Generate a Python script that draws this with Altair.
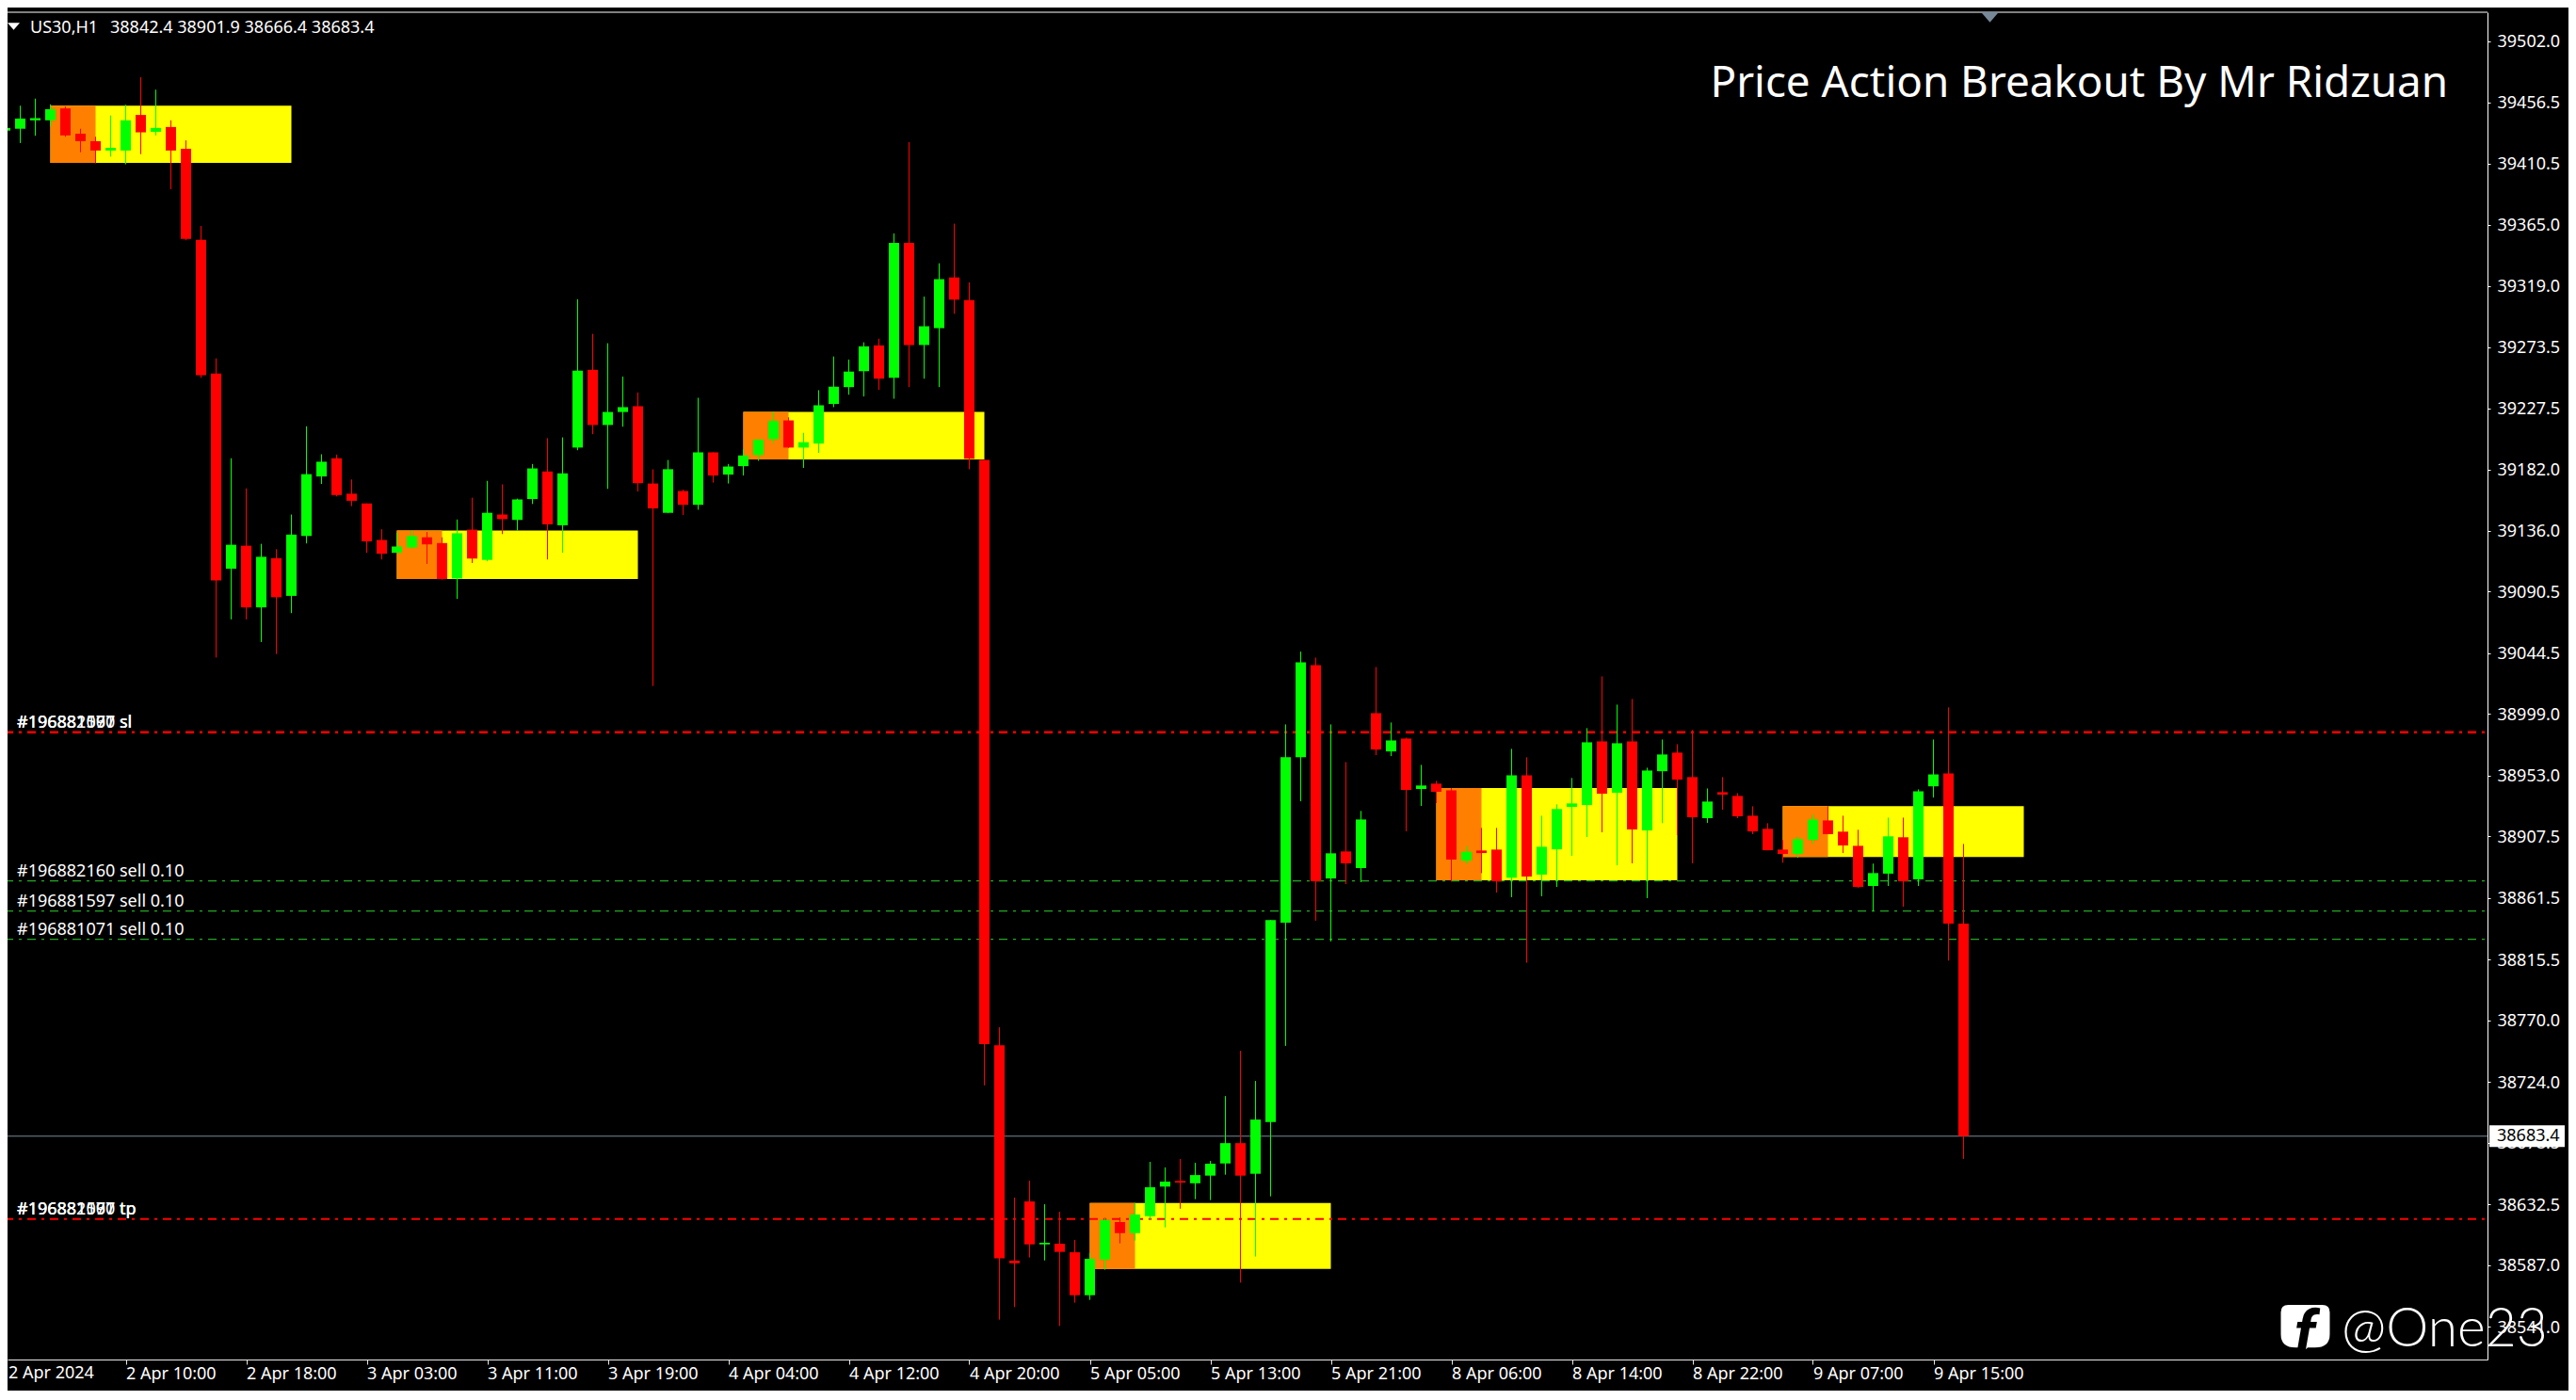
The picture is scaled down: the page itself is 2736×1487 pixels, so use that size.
import json
import altair as alt
import pandas as pd

opens = [39435.3,39436.7,39443.0,39443.0,39451.9,39433.0,39427.4,39420.4,39420.4,39447.0,39434.4,39438.0,39421.7,39353.7,39253.7,39107.7,39124.9,39078.8,39115.6,39087.4,39132.2,39176.7,39190.3,39163.8,39156.5,39129.2,39119.6,39123.6,39131.2,39126.9,39100.4,39136.9,39114.3,39148.2,39144.2,39159.8,39180.4,39140.2,39198.3,39256.4,39215.2,39224.9,39229.2,39171.4,
 39149.5,39165.8,39155.5,39194.7,39178.1,39184.4,39192.7,39204.6,39218.6,39198.3,39201.3,39230.9,39243.5,39255.4,39274.7,39250.5,39351.4,39275.0,39287.6,39325.5,39308.6,39189.0,
 38751.4,38590.3,38634.6,38602.5,38603.0,38596.6,38564.5,38591.2,38619.2,38610.9,38623.6,38645.7,38649.9,38648.2,38653.9,38663.0,38678.2,38655.3,38694.0,
 38843.1,38966.7,39035.6,38876.1,38896.3,38883.9,38999.7,38971.1,38980.7,38943.0,38947.0,38942.0,38889.3,38897.0,38897.7,38876.6,38953.3,38879.0,38897.9,38929.6,38931.0,38978.6,38940.2,38978.6,38912.0,38956.3,38970.2,38951.9,38921.2,38940.6,38937.8,38923.0,38913.2,38897.7,38894.4,38905.0,38919.5,38911.1,38900.5,38870.5,38879.7,38906.9,38875.4,
 38945.0,38954.6,38842.4]
highs = [39442.6,39453.9,39459.2,39454.9,39453.3,39436.7,39430.7,39446.6,39454.6,39475.2,39465.9,39443.0,39428.0,39364.0,39265.0,39190.3,39167.8,39126.3,39122.3,39148.2,39214.2,39193.3,39193.0,39174.4,39156.5,39137.2,39134.6,39136.2,39135.2,39131.2,39144.5,39160.8,39173.4,39170.8,39160.1,39186.0,39205.3,39205.9,39309.2,39283.3,39276.3,39251.4,39239.5,39182.0,
 39189.0,39166.8,39235.5,39194.7,39186.0,39197.0,39204.3,39224.9,39220.9,39209.3,39241.2,39266.4,39264.1,39277.0,39279.7,39358.4,39426.7,39311.2,39336.1,39365.7,39321.8,39189.0,
 38764.8,38637.4,38650.1,38632.5,38626.9,38605.8,38596.2,38622.0,38622.7,38633.5,38664.2,38660.0,38666.3,38663.5,38664.9,38713.4,38747.2,38724.7,38845.0,
 38991.3,39045.7,39041.2,38991.3,38963.1,38926.6,39034.2,38992.7,38981.4,38961.0,38949.1,38943.7,38900.3,38913.9,38913.9,38973.0,38966.7,38923.0,38931.5,38951.2,38988.5,39027.2,39006.1,39010.3,38958.9,38980.0,38976.5,38987.1,38943.4,38951.9,38939.9,38930.1,38917.4,38904.7,38907.6,38923.7,38930.1,38923.0,38912.5,38887.2,38921.6,38921.6,38942.7,
 38980.0,39004.0,38901.9]
lows = [39410.8,39426.0,39431.4,39438.3,39430.7,39419.1,39410.8,39415.8,39410.1,39417.7,39431.7,39391.5,39353.3,39250.4,39041.3,39069.8,39069.8,39052.9,39043.9,39074.5,39126.6,39171.1,39161.8,39154.5,39119.6,39114.6,39119.6,39122.9,39111.3,39099.4,39085.1,39112.0,39113.3,39133.6,39136.2,39156.1,39114.6,39119.6,39196.3,39208.3,39167.4,39213.9,39165.4,39020.0,
 39149.5,39147.9,39151.8,39172.1,39171.4,39177.4,39188.4,39201.6,39198.0,39183.1,39194.3,39228.5,39237.8,39236.5,39241.5,39234.8,39243.5,39249.8,39243.5,39298.3,39182.1,38721.4,
 38546.2,38555.6,38592.7,38590.5,38541.5,38558.9,38561.0,38583.5,38603.2,38605.3,38620.8,38615.2,38629.2,38636.3,38635.6,38654.6,38573.9,38593.4,38638.4,
 38750.9,38933.8,38844.5,38829.0,38871.9,38873.3,38968.3,38967.6,38911.3,38930.3,38932.4,38874.0,38886.7,38880.1,38865.6,38862.1,38813.1,38862.8,38869.8,38893.0,38907.1,38910.6,38886.0,38887.4,38861.4,38917.4,38908.5,38887.4,38917.6,38927.5,38921.2,38909.2,38897.2,38887.9,38891.6,38902.2,38909.2,38895.1,38869.1,38851.8,38870.5,38855.0,38870.5,
 38936.6,38814.7,38666.4]
closes = [39437.3,39444.3,39444.6,39451.3,39431.7,39427.4,39420.4,39422.4,39443.0,39434.0,39437.3,39420.4,39354.3,39252.4,39099.0,39125.6,39078.8,39116.6,39086.4,39133.2,39178.4,39187.7,39162.8,39158.5,39128.2,39118.9,39124.3,39132.2,39125.9,39100.0,39134.2,39115.3,39149.5,39144.8,39159.5,39182.7,39140.9,39179.0,39255.8,39215.2,39224.9,39228.5,39171.7,39152.8,
 39182.1,39155.5,39194.7,39177.4,39184.1,39192.4,39204.3,39218.2,39198.3,39202.3,39229.9,39243.8,39255.1,39274.0,39249.8,39351.4,39275.0,39289.0,39324.2,39308.9,39190.0,38752.3,
 38592.0,38588.4,38602.5,38603.7,38596.9,38564.5,38591.7,38620.6,38610.9,38624.8,38645.2,38649.4,38648.7,38654.3,38662.8,38678.2,38653.9,38695.8,38845.0,
 38966.7,39037.7,38874.0,38894.9,38887.4,38920.2,38972.5,38979.3,38942.3,38945.6,38940.9,38890.2,38896.1,38895.1,38874.0,38953.3,38877.5,38899.8,38928.0,38932.2,38977.9,38939.5,38977.2,38912.7,38956.8,38968.8,38950.0,38921.9,38933.6,38938.8,38922.6,38911.3,38897.2,38894.4,38905.5,38920.2,38909.2,38900.8,38869.8,38880.1,38907.6,38874.0,38941.3,
 38953.9,38842.3,38683.4]

y_ticks = [39502.0,39456.5,39410.5,39365.0,39319.0,39273.5,39227.5,39182.0,39136.0,39090.5,39044.5,38999.0,38953.0,38907.5,38861.5,38815.5,38770.0,38724.0,38678.5,38632.5,38587.0,38541.0]
x_tick_bars = [8,16,24,32,40,48,56,64,72,80,88,96,104,112,120,128]
x_tick_labels = ["2 Apr 10:00","2 Apr 18:00","3 Apr 03:00","3 Apr 11:00","3 Apr 19:00","4 Apr 04:00","4 Apr 12:00","4 Apr 20:00","5 Apr 05:00","5 Apr 13:00","5 Apr 21:00","8 Apr 06:00","8 Apr 14:00","8 Apr 22:00","9 Apr 07:00","9 Apr 15:00"]
first_x_label = "2 Apr 2024"

zone_start = [3,26,49,72,95,118]
zone_orange_end = [6,29,52,75,98,121]
zone_end = [19,42,65,88,111,134]
zone_top = [39453.9,39136.2,39224.9,38633.5,38943.7,38930.2]
zone_bottom = [39411.1,39100.0,39189.4,38584.2,38874.7,38892.2]

level_prices = [38985.4,38621.5,38874.3,38851.7,38830.6]
level_colors = ["#ff0000","#ff0000","#22aa22","#22aa22","#22aa22"]
level_widths = [2.6,2,1.3,1.3,1.3]

label_prices = [38985.4,38985.4,38985.4,38621.5,38621.5,38621.5,38874.3,38851.7,38830.6]
label_texts = ["#196881071 sl","#196881597 sl","#196882160 sl","#196881071 tp","#196881597 tp","#196882160 tp","#196882160 sell 0.10","#196881597 sell 0.10","#196881071 sell 0.10"]

last_price = 38683.4
header_symbol = "US30,H1"
header_ohlc = "38842.4 38901.9 38666.4 38683.4"
title_text = "Price Action Breakout By Mr Ridzuan"
brand_text = "@One23"

FONT = "Noto Sans"
W, H = 2634, 1431
xs = alt.Scale(domain=[0.15625, 164.78125], nice=False, zero=False, padding=0)
ys = alt.Scale(domain=[38516.4, 39523.8], nice=False, zero=False, padding=0)

x_axis = alt.Axis(values=x_tick_bars, labelExpr=f"{json.dumps(x_tick_labels)}[round(datum.value/8)-1]",
                  title=None, grid=False, domainColor="#e8e8e8", tickColor="#e8e8e8", tickSize=5,
                  labelColor="white", labelFont=FONT, labelFontSize=18, labelAlign="left",
                  labelBaseline="alphabetic", labelPadding=15, labelOverlap=False, labelFlush=False,
                  labelBound=False)
y_axis = alt.Axis(values=y_ticks, format=".1f", orient="right", title=None, grid=False,
                  domainColor="white", tickColor="white", tickSize=3, labelColor="white",
                  labelFont=FONT, labelFontSize=18, labelPadding=7, labelOverlap=False,
                  labelFlush=False, labelBound=False, labelOffset=1)

def X(f):
    return alt.X(f, scale=xs, axis=x_axis, title=None)
def Y(f):
    return alt.Y(f, scale=ys, axis=y_axis, title=None)

candles = pd.DataFrame({"i": list(range(len(opens))), "o": opens, "h": highs, "l": lows, "c": closes})
candles["color"] = ["#00ff00" if c >= o else "#ff0000" for o, c in zip(opens, closes)]
zones = pd.DataFrame({"s": zone_start, "oe": zone_orange_end, "e": zone_end, "t": zone_top, "b": zone_bottom})
levels = pd.DataFrame({"p": level_prices, "c": level_colors, "w": level_widths})
labels = pd.DataFrame({"p": label_prices, "t": label_texts})

yellow = alt.Chart(zones).mark_rect(color="#ffff00", clip=True).encode(x=X("s:Q"), x2="e:Q", y=Y("t:Q"), y2="b:Q")
orange = alt.Chart(zones).mark_rect(color="#ff8000", clip=True).encode(x=X("s:Q"), x2="oe:Q", y=Y("t:Q"), y2="b:Q")
level_rules = alt.Chart(levels).mark_rule(strokeDash=[9, 6, 3, 6], strokeDashOffset=3).encode(
    x=alt.value(0), x2=alt.value(W), y=Y("p:Q"),
    color=alt.Color("c:N", scale=None), strokeWidth=alt.StrokeWidth("w:Q", scale=None))
level_text = alt.Chart(labels).mark_text(font=FONT, fontSize=18, color="white", align="left", baseline="alphabetic", dy=-5).encode(
    x=alt.value(10), y=Y("p:Q"), text="t:N")
price_line = alt.Chart(pd.DataFrame({"p": [last_price]})).mark_rule(color="#778899", strokeWidth=1).encode(
    x=alt.value(0), x2=alt.value(W), y=Y("p:Q"))
wicks = alt.Chart(candles).mark_rule(strokeWidth=1, clip=True).encode(
    x=X("i:Q"), y=Y("h:Q"), y2="l:Q", color=alt.Color("color:N", scale=None))
bodies = alt.Chart(candles).mark_bar(size=11, clip=True).encode(
    x=X("i:Q"), y=Y("o:Q"), y2="c:Q", color=alt.Color("color:N", scale=None))

top_frame = alt.Chart(pd.DataFrame({"a": [0]})).mark_rule(color="white", strokeWidth=1).encode(
    x=alt.value(0), x2=alt.value(W), y=alt.value(0))
price_box = alt.Chart(pd.DataFrame({"t": [38691.6], "b": [38675.4]})).mark_rect(color="white").encode(
    x=alt.value(2636), x2=alt.value(2716), y=Y("t:Q"), y2="b:Q")
price_text = alt.Chart(pd.DataFrame({"p": [last_price], "t": [f"{last_price:.1f}"]})).mark_text(
    font=FONT, fontSize=18, color="black", align="left", baseline="middle").encode(
    x=alt.value(2644), y=Y("p:Q"), text="t:N")

def note(txt, x, y, size, font=FONT, color="white", align="left", **kw):
    return alt.Chart(pd.DataFrame({"t": [txt]})).mark_text(
        font=font, fontSize=size, color=color, align=align, baseline="alphabetic", **kw).encode(
        x=alt.value(x), y=alt.value(y), text="t:N")

TRI = "M-1,-.58 H1 L0,.58 Z"
header_tri = alt.Chart(pd.DataFrame({"a": [0]})).mark_point(shape=TRI, filled=True, size=169, color="white", opacity=1).encode(
    x=alt.value(6.5), y=alt.value(15))
shift_tri = alt.Chart(pd.DataFrame({"a": [0]})).mark_point(shape=TRI, filled=True, size=361, color="#778899", opacity=1).encode(
    x=alt.value(2105.5), y=alt.value(5.25))
BUBBLE = "M-.35,-.5 H.35 Q.5,-.5 .5,-.35 V.1 Q.5,.37 .2,.37 H.05 L-.1,.5 L-.08,.37 H-.2 Q-.5,.37 -.5,.1 V-.35 Q-.5,-.5 -.35,-.5 Z"
bubble = alt.Chart(pd.DataFrame({"a": [0]})).mark_point(shape=BUBBLE, filled=True, size=10800, color="white", opacity=1).encode(
    x=alt.value(2440.5), y=alt.value(1399))

chart = alt.layer(
    yellow, orange, level_rules, price_line, wicks, bodies, level_text, top_frame,
    price_box, price_text, header_tri, shift_tri,
    note(first_x_label, 1, 1451, 18),
    note(header_symbol, 24, 22, 18), note(header_ohlc, 109, 22, 18),
    note(title_text, 2592, 90, 45.8, align="right"),
    bubble, note("f", 2440, 1425, 65, font="Roboto", color="black", align="center", fontWeight="bold", fontStyle="italic"),
    note(brand_text, 2479, 1417, 57, font="Lato", fontWeight=300),
).resolve_scale(x="shared", y="shared").properties(
    width=W, height=H, background="black",
    padding={"left": 0, "top": 5, "right": 86, "bottom": 33},
    autosize=alt.AutoSizeParams(type="none"),
).configure_view(stroke=None)

chart.save("out.html", embed_options={"renderer": "svg", "actions": False})
